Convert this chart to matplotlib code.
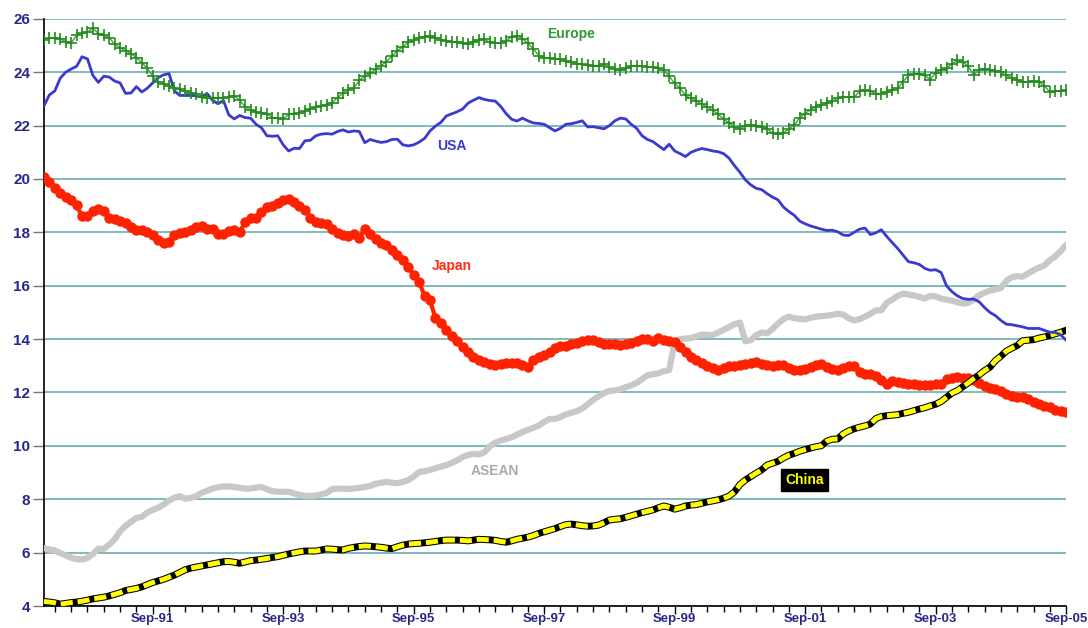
import numpy as np
import matplotlib
matplotlib.use("Agg")
import matplotlib.pyplot as plt

plt.rcParams['font.family'] = ['Liberation Sans', 'DejaVu Sans']

# monthly shares, Jan-90 .. Sep-05
start_year = 1990

europe = [25.20, 25.28, 25.30, 25.24, 25.15, 25.10, 25.38, 25.46, 25.50, 25.65,
          25.45, 25.38, 25.30, 25.05, 24.92, 24.80, 24.70, 24.55, 24.35, 24.15,
          23.85, 23.65, 23.55, 23.48, 23.42, 23.36, 23.28, 23.22, 23.17, 23.08,
          23.05, 23.03, 23.05, 23.03, 23.08, 23.12, 22.95, 22.70, 22.58, 22.50,
          22.48, 22.44, 22.30, 22.28, 22.25, 22.42, 22.45, 22.46, 22.55, 22.62,
          22.70, 22.74, 22.78, 22.86, 23.05, 23.22, 23.35, 23.42, 23.70, 23.85,
          23.96, 24.12, 24.25, 24.40, 24.60, 24.80, 24.95, 25.12, 25.20, 25.30,
          25.33, 25.36, 25.30, 25.22, 25.18, 25.15, 25.13, 25.08, 25.07, 25.14,
          25.20, 25.24, 25.12, 25.10, 25.10, 25.18, 25.32, 25.36, 25.26, 25.08,
          24.88, 24.62, 24.55, 24.52, 24.50, 24.49, 24.42, 24.38, 24.32, 24.30,
          24.26, 24.25, 24.25, 24.30, 24.20, 24.11, 24.08, 24.15, 24.22, 24.25,
          24.24, 24.20, 24.18, 24.15, 24.07, 23.85, 23.58, 23.40, 23.13, 23.02,
          22.92, 22.80, 22.70, 22.58, 22.42, 22.25, 22.10, 21.95, 21.87, 22.00,
          22.02, 22.00, 21.93, 21.88, 21.72, 21.68, 21.72, 21.88, 22.02, 22.30,
          22.45, 22.60, 22.70, 22.78, 22.84, 22.92, 23.03, 23.08, 23.08, 23.06,
          23.28, 23.35, 23.28, 23.20, 23.20, 23.25, 23.32, 23.40, 23.64, 23.88,
          23.92, 23.92, 23.88, 23.72, 23.98, 24.08, 24.15, 24.32, 24.44, 24.38,
          24.22, 23.90, 24.08, 24.12, 24.10, 24.06, 24.00, 23.88, 23.78, 23.70,
          23.62, 23.64, 23.67, 23.62, 23.50, 23.25, 23.28, 23.30, 23.32]

usa = [22.74, 23.15, 23.30, 23.78, 24.00, 24.12, 24.22, 24.58, 24.50, 23.88,
       23.62, 23.85, 23.82, 23.67, 23.60, 23.21, 23.22, 23.46, 23.26, 23.40,
       23.60, 23.80, 23.90, 23.95, 23.30, 23.13, 23.13, 23.13, 23.12, 23.08,
       23.20, 22.95, 22.82, 22.94, 22.40, 22.25, 22.38, 22.30, 22.28, 22.05,
       21.92, 21.62, 21.60, 21.62, 21.28, 21.05, 21.15, 21.14, 21.43, 21.45,
       21.62, 21.68, 21.70, 21.68, 21.78, 21.84, 21.76, 21.80, 21.78, 21.36,
       21.48, 21.42, 21.37, 21.40, 21.48, 21.49, 21.28, 21.24, 21.28, 21.38,
       21.52, 21.80, 21.98, 22.12, 22.36, 22.44, 22.52, 22.62, 22.84, 22.95,
       23.05, 22.98, 22.94, 22.92, 22.72, 22.45, 22.24, 22.17, 22.28, 22.18,
       22.10, 22.08, 22.05, 21.92, 21.80, 21.90, 22.05, 22.07, 22.12, 22.18,
       21.95, 21.96, 21.92, 21.88, 22.00, 22.18, 22.28, 22.25, 22.05, 21.90,
       21.62, 21.48, 21.40, 21.25, 21.10, 21.30, 21.05, 20.95, 20.84, 21.00,
       21.08, 21.14, 21.10, 21.05, 21.02, 20.95, 20.78, 20.50, 20.25, 19.97,
       19.78, 19.65, 19.60, 19.45, 19.32, 19.22, 18.95, 18.78, 18.64, 18.42,
       18.32, 18.24, 18.18, 18.12, 18.07, 18.08, 18.02, 17.90, 17.88, 18.00,
       18.12, 18.16, 17.92, 17.98, 18.10, 17.85, 17.62, 17.40, 17.15, 16.90,
       16.86, 16.80, 16.65, 16.58, 16.60, 16.50, 16.00, 15.78, 15.62, 15.52,
       15.49, 15.50, 15.40, 15.18, 15.00, 14.88, 14.70, 14.56, 14.54, 14.50,
       14.46, 14.40, 14.40, 14.40, 14.33, 14.26, 14.25, 14.16, 13.96]

japan = [20.08, 19.88, 19.66, 19.48, 19.32, 19.22, 19.02, 18.60, 18.62, 18.80,
         18.87, 18.80, 18.55, 18.50, 18.44, 18.36, 18.20, 18.10, 18.08, 18.00,
         17.90, 17.72, 17.60, 17.65, 17.90, 17.97, 18.00, 18.10, 18.20, 18.22,
         18.14, 18.14, 17.92, 17.95, 18.05, 18.08, 18.00, 18.40, 18.55, 18.55,
         18.75, 18.95, 18.98, 19.10, 19.22, 19.25, 19.15, 19.00, 18.85, 18.55,
         18.40, 18.35, 18.30, 18.12, 17.98, 17.90, 17.86, 17.92, 17.80, 18.12,
         17.95, 17.75, 17.62, 17.52, 17.35, 17.15, 16.98, 16.70, 16.40, 16.15,
         15.62, 15.45, 14.80, 14.62, 14.36, 14.10, 13.92, 13.70, 13.52, 13.32,
         13.22, 13.15, 13.06, 13.04, 13.06, 13.12, 13.09, 13.09, 13.02, 12.96,
         13.20, 13.34, 13.42, 13.52, 13.65, 13.73, 13.76, 13.80, 13.84, 13.92,
         13.98, 13.98, 13.88, 13.82, 13.82, 13.80, 13.78, 13.80, 13.84, 13.94,
         14.02, 14.00, 13.92, 14.04, 13.98, 13.92, 13.88, 13.72, 13.50, 13.32,
         13.22, 13.10, 12.98, 12.90, 12.86, 12.92, 12.99, 13.01, 13.02, 13.05,
         13.10, 13.13, 13.05, 13.02, 13.00, 13.02, 13.04, 12.92, 12.86, 12.84,
         12.88, 12.94, 13.02, 13.08, 12.96, 12.88, 12.84, 12.92, 12.98, 13.00,
         12.78, 12.71, 12.68, 12.62, 12.46, 12.32, 12.44, 12.38, 12.36, 12.32,
         12.30, 12.29, 12.29, 12.29, 12.30, 12.32, 12.50, 12.56, 12.58, 12.56,
         12.54, 12.45, 12.34, 12.24, 12.18, 12.12, 12.04, 11.96, 11.86, 11.82,
         11.82, 11.74, 11.66, 11.58, 11.50, 11.44, 11.36, 11.30, 11.27]

asean = [6.17, 6.12, 6.08, 5.98, 5.90, 5.81, 5.76, 5.74, 5.80, 5.95,
         6.15, 6.14, 6.30, 6.50, 6.80, 7.00, 7.15, 7.30, 7.34, 7.50,
         7.60, 7.68, 7.80, 7.95, 8.06, 8.12, 8.02, 8.05, 8.12, 8.24,
         8.32, 8.40, 8.45, 8.48, 8.48, 8.46, 8.43, 8.40, 8.40, 8.44,
         8.46, 8.38, 8.30, 8.28, 8.28, 8.28, 8.22, 8.16, 8.13, 8.12,
         8.14, 8.18, 8.24, 8.38, 8.40, 8.39, 8.39, 8.40, 8.43, 8.46,
         8.50, 8.58, 8.62, 8.65, 8.62, 8.60, 8.65, 8.72, 8.85, 9.02,
         9.05, 9.10, 9.16, 9.22, 9.28, 9.36, 9.46, 9.58, 9.66, 9.70,
         9.68, 9.76, 9.98, 10.12, 10.20, 10.26, 10.32, 10.42, 10.52, 10.60,
         10.68, 10.76, 10.90, 11.01, 11.01, 11.08, 11.18, 11.24, 11.30, 11.40,
         11.56, 11.72, 11.86, 11.98, 12.06, 12.08, 12.12, 12.20, 12.27, 12.36,
         12.50, 12.65, 12.68, 12.72, 12.80, 12.84, 13.90, 14.00, 14.02, 14.04,
         14.10, 14.17, 14.16, 14.15, 14.25, 14.35, 14.45, 14.56, 14.62, 13.92,
         13.96, 14.15, 14.25, 14.22, 14.38, 14.58, 14.75, 14.84, 14.78, 14.76,
         14.74, 14.80, 14.84, 14.86, 14.88, 14.91, 14.95, 14.92, 14.78, 14.70,
         14.75, 14.84, 14.95, 15.08, 15.08, 15.36, 15.48, 15.62, 15.70, 15.67,
         15.64, 15.58, 15.52, 15.62, 15.60, 15.52, 15.48, 15.44, 15.38, 15.33,
         15.36, 15.48, 15.64, 15.74, 15.82, 15.86, 15.92, 16.18, 16.32, 16.36,
         16.34, 16.46, 16.58, 16.68, 16.76, 16.96, 17.10, 17.30, 17.53]

china = [4.17, 4.15, 4.12, 4.07, 4.10, 4.13, 4.15, 4.18, 4.22, 4.27,
         4.30, 4.33, 4.38, 4.44, 4.50, 4.58, 4.62, 4.66, 4.72, 4.80,
         4.88, 4.94, 5.00, 5.08, 5.16, 5.26, 5.36, 5.42, 5.46, 5.50,
         5.54, 5.58, 5.62, 5.66, 5.67, 5.64, 5.60, 5.65, 5.70, 5.72,
         5.75, 5.78, 5.82, 5.85, 5.90, 5.95, 5.99, 6.03, 6.06, 6.06,
         6.06, 6.10, 6.14, 6.13, 6.11, 6.10, 6.16, 6.20, 6.23, 6.25,
         6.24, 6.22, 6.20, 6.17, 6.15, 6.22, 6.28, 6.32, 6.34, 6.35,
         6.37, 6.39, 6.42, 6.45, 6.47, 6.47, 6.47, 6.46, 6.44, 6.47,
         6.50, 6.49, 6.48, 6.46, 6.42, 6.39, 6.44, 6.50, 6.54, 6.58,
         6.64, 6.72, 6.78, 6.84, 6.90, 6.98, 7.05, 7.07, 7.04, 7.01,
         6.99, 7.00, 7.03, 7.12, 7.22, 7.25, 7.27, 7.32, 7.38, 7.44,
         7.50, 7.55, 7.60, 7.68, 7.75, 7.70, 7.63, 7.68, 7.75, 7.78,
         7.80, 7.85, 7.90, 7.94, 7.98, 8.04, 8.12, 8.28, 8.55, 8.72,
         8.85, 8.98, 9.10, 9.28, 9.35, 9.42, 9.55, 9.65, 9.72, 9.80,
         9.86, 9.92, 9.97, 10.01, 10.18, 10.25, 10.26, 10.45, 10.56, 10.64,
         10.70, 10.75, 10.82, 11.02, 11.10, 11.13, 11.15, 11.17, 11.22, 11.26,
         11.32, 11.38, 11.43, 11.50, 11.56, 11.66, 11.82, 11.98, 12.07, 12.22,
         12.36, 12.52, 12.66, 12.82, 12.95, 13.20, 13.36, 13.55, 13.66, 13.76,
         13.94, 13.96, 13.98, 14.04, 14.08, 14.14, 14.20, 14.26, 14.33]

months = np.arange(len(europe))

# tick positions: every quarter (Mar/Jun/Sep/Dec), labels every second September
minor_ticks = months[months % 3 == 2]
major_ticks = months[(months % 24) == 20]
major_labels = ["Sep-%02d" % ((start_year + m // 12) % 100) for m in major_ticks]

navy = "#27278a"

fig = plt.figure(figsize=(10.88, 6.28), dpi=100)
ax = fig.add_axes([0.0404, 0.035, 0.9395, 0.935])

ax.plot(months, asean, color="#c8c8c8", lw=4.5, solid_capstyle="round", zorder=3)
ax.plot(months, japan, color="#ff2200", lw=3, marker="o", ms=7.5,
        markeredgewidth=0, zorder=4)
ax.plot(months, china, color="black", lw=5, zorder=5)
ax.plot(months, china, color="#ffff00", lw=3.5, dashes=(2.5, 1), zorder=6)
ax.plot(months, usa, color="#3a3ad0", lw=2, zorder=7)
ax.plot(months, europe, color="#3fa33f", lw=1, marker="+", ms=8.5,
        markeredgewidth=1.2, mec="#238a1c", zorder=8)

ax.set_xlim(0, months[-1])
ax.set_ylim(4, 26)
ax.set_yticks(np.arange(4, 27, 2))
ax.set_xticks(major_ticks)
ax.set_xticklabels(major_labels)
ax.set_xticks([m for m in minor_ticks if m not in major_ticks], minor=True)

ax.yaxis.grid(True, color="#6aaeb0", lw=1.2, zorder=1)
ax.set_axisbelow(True)
for s in ("top", "right"):
    ax.spines[s].set_visible(False)
for s in ("left", "bottom"):
    ax.spines[s].set_color("black")
    ax.spines[s].set_linewidth(1.2)

ax.tick_params(axis="y", length=8, width=1, color="#777777", pad=2,
               labelsize=11, labelcolor=navy)
ax.tick_params(axis="x", which="major", length=6, width=1, pad=-1,
               labelsize=9.5, labelcolor=navy)
ax.tick_params(axis="x", which="minor", length=4.5, width=1)
for lbl in ax.get_xticklabels() + ax.get_yticklabels():
    lbl.set_fontweight("bold")

# series labels
ax.text(96.9, 25.45, "Europe", color="#2f9a2f", fontsize=10, fontweight="bold",
        ha="center", va="center")
ax.text(75, 21.22, "USA", color="#3a3ad0", fontsize=10, fontweight="bold",
        ha="center", va="center")
ax.text(75, 16.74, "Japan", color="#ff2a10", fontsize=10, fontweight="bold",
        ha="center", va="center")
ax.text(83, 9.07, "ASEAN", color="#aaaaaa", fontsize=10, fontweight="bold",
        ha="center", va="center")
ax.text(139.9, 8.73, "China", color="#ffff00", fontsize=10, fontweight="bold",
        ha="center", va="center", zorder=9,
        bbox=dict(boxstyle="square,pad=0.3", fc="black", ec="black"))

fig.savefig("out.png", dpi=100)
